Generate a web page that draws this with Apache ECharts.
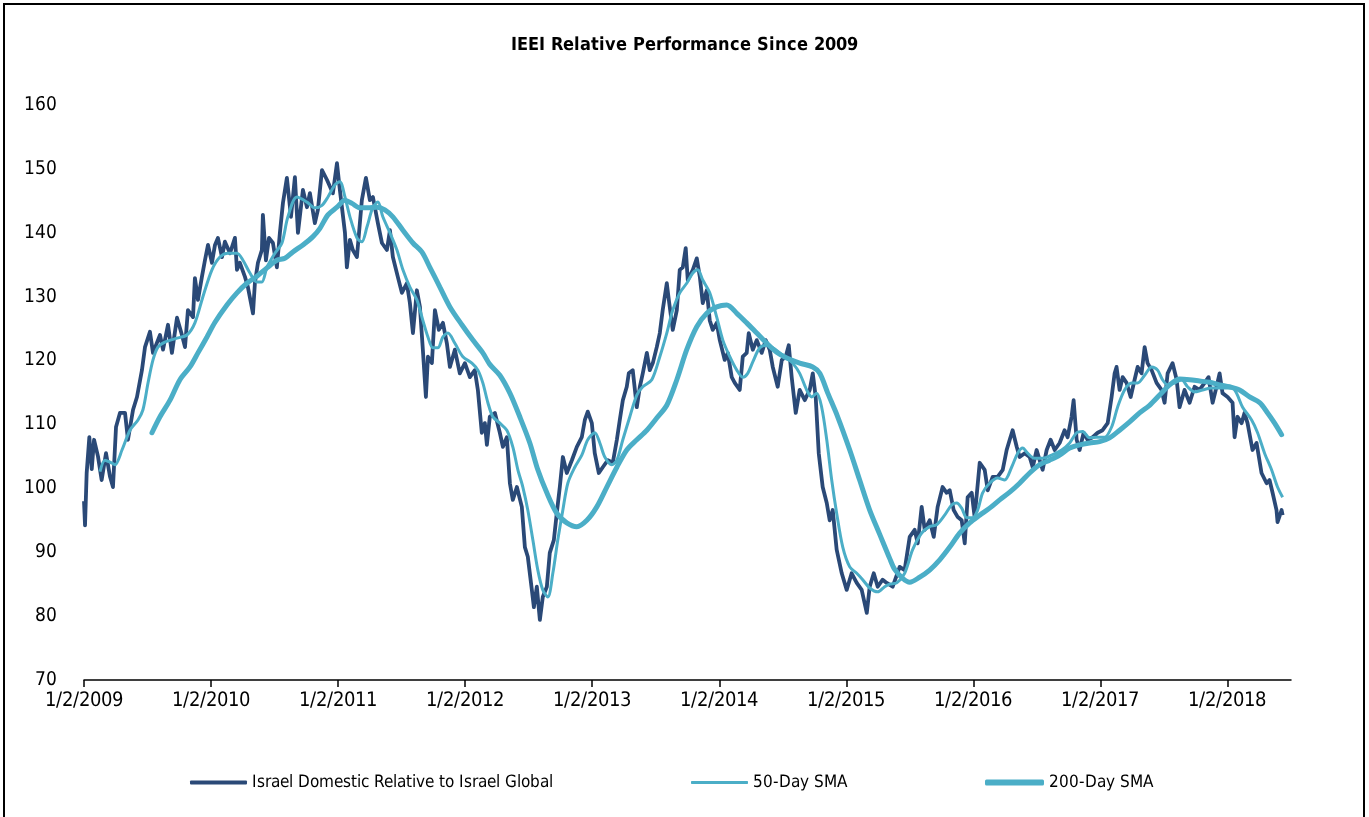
<!DOCTYPE html>
<html>
<head>
<meta charset="utf-8">
<script src="https://cdn.jsdelivr.net/npm/echarts@6/dist/echarts.min.js"></script>
<style>
@font-face{font-family:'CondA';src:local('Liberation Sans Narrow'),local('LiberationSansNarrow'),local('LiberationSansNarrow-Regular'),local('DejaVu Sans Condensed'),local('DejaVuSansCondensed');font-weight:normal;}
@font-face{font-family:'CondA';src:local('Liberation Sans Narrow Bold'),local('LiberationSansNarrow-Bold'),local('DejaVu Sans Condensed Bold'),local('DejaVuSansCondensed-Bold');font-weight:bold;}
html,body{margin:0;padding:0;background:#fff;}
#frame{position:absolute;left:3px;top:3px;width:1362px;height:830px;border:2px solid #000;box-sizing:border-box;}
#chart{position:absolute;left:0;top:0;width:1369px;height:817px;}
#probe{position:absolute;left:-9999px;font-family:CondA;}
</style>
</head>
<body>
<div id="frame"></div>
<div id="chart"></div>
<span id="probe">1/2/2009 <b>x</b></span>
<script>
// x values: years elapsed since 1/2/2009
const yearLabels = ['1/2/2009','1/2/2010','1/2/2011','1/2/2012','1/2/2013','1/2/2014','1/2/2015','1/2/2016','1/2/2017','1/2/2018'];
const yTicks = [70,80,90,100,110,120,130,140,150,160];

const mainT = [0,0.008,0.021,0.042,0.061,0.079,0.110,0.139,0.173,0.205,0.228,0.252,0.283,0.323,0.346,0.386,0.417,0.456,0.480,0.519,0.543,0.598,0.622,0.661,0.692,0.732,0.771,0.795,0.818,0.858,0.873,0.897,0.928,0.952,0.976,1.007,1.031,1.054,1.086,1.109,1.149,1.188,1.204,1.227,1.267,1.290,1.330,1.345,1.369,1.400,1.408,1.432,1.456,1.487,1.518,1.542,1.566,1.597,1.629,1.660,1.684,1.723,1.755,1.778,1.817,1.841,1.873,1.912,1.959,1.991,2.014,2.054,2.069,2.093,2.116,2.148,2.187,2.219,2.250,2.274,2.313,2.345,2.384,2.408,2.431,2.470,2.502,2.541,2.565,2.589,2.620,2.644,2.667,2.691,2.707,2.738,2.762,2.793,2.825,2.856,2.880,2.919,2.958,2.998,3.037,3.076,3.100,3.131,3.155,3.171,3.194,3.234,3.273,3.297,3.328,3.352,3.375,3.407,3.446,3.470,3.493,3.525,3.541,3.564,3.588,3.611,3.643,3.666,3.698,3.721,3.745,3.769,3.800,3.840,3.879,3.918,3.942,3.965,3.997,4.020,4.052,4.083,4.123,4.162,4.194,4.217,4.241,4.272,4.288,4.319,4.351,4.375,4.398,4.430,4.453,4.477,4.508,4.532,4.555,4.587,4.603,4.634,4.666,4.689,4.713,4.736,4.752,4.792,4.823,4.847,4.870,4.902,4.925,4.949,4.980,5.004,5.043,5.067,5.098,5.122,5.161,5.185,5.216,5.232,5.264,5.295,5.334,5.366,5.397,5.421,5.460,5.492,5.523,5.547,5.570,5.602,5.633,5.673,5.712,5.736,5.759,5.783,5.814,5.846,5.869,5.893,5.924,5.964,6.003,6.042,6.082,6.121,6.161,6.184,6.216,6.247,6.286,6.318,6.365,6.420,6.459,6.499,6.538,6.562,6.593,6.617,6.656,6.688,6.719,6.758,6.790,6.814,6.845,6.877,6.908,6.932,6.955,6.987,7.010,7.050,7.089,7.113,7.152,7.191,7.231,7.262,7.286,7.309,7.341,7.364,7.404,7.443,7.467,7.498,7.522,7.545,7.577,7.608,7.640,7.679,7.718,7.742,7.773,7.789,7.813,7.836,7.868,7.899,7.939,7.978,8.017,8.057,8.088,8.112,8.127,8.151,8.175,8.206,8.238,8.269,8.293,8.324,8.348,8.371,8.403,8.442,8.481,8.505,8.529,8.568,8.600,8.623,8.662,8.702,8.741,8.780,8.820,8.851,8.883,8.914,8.938,8.961,9.001,9.040,9.056,9.079,9.111,9.134,9.158,9.197,9.229,9.268,9.308,9.331,9.355,9.386,9.394,9.426,9.434];
const mainV = [98.0,94.2,102.4,108.0,103.0,107.6,105.0,101.3,105.5,101.8,100.2,109.6,111.8,111.8,107.6,112.3,114.3,118.5,122.1,124.5,121.2,124.0,121.7,125.6,121.2,126.7,124.0,122.1,127.9,126.8,132.9,129.5,133.1,135.7,138.1,135.3,138.1,139.2,136.2,138.6,136.8,139.2,134.2,135.3,133.1,131.5,127.4,132.1,135.3,137.3,142.8,135.7,139.2,138.4,134.6,140.0,144.7,148.6,142.5,148.7,140.0,146.7,144.0,146.2,141.5,143.6,149.8,148.3,146.2,150.9,146.7,140.0,134.6,138.9,137.3,136.2,145.1,148.6,145.1,145.6,141.5,138.4,137.3,140.4,136.2,133.1,130.6,132.1,129.0,124.3,131.0,128.4,121.7,114.3,120.6,119.6,127.9,124.8,125.9,122.7,119.0,121.7,118.0,119.6,117.4,118.5,115.4,108.7,110.2,106.8,111.2,111.8,108.7,106.5,108.0,100.8,98.2,100.2,97.1,90.8,89.3,84.1,81.4,84.6,79.4,83.0,84.6,89.9,91.9,96.1,100.2,104.9,102.4,104.4,106.5,108.0,110.7,112.0,110.2,105.5,102.4,103.3,104.4,104.0,107.6,110.7,113.8,115.9,118.0,118.5,112.7,115.9,118.0,121.2,118.5,119.6,122.1,124.3,127.9,132.1,129.5,124.8,127.9,134.2,134.6,137.6,132.6,134.2,136.0,133.1,129.0,131.0,126.3,124.8,125.9,123.2,120.1,121.2,117.4,116.5,115.4,120.6,121.2,124.3,121.7,123.2,121.2,123.2,121.7,119.0,115.9,120.1,120.6,122.4,117.4,111.8,115.4,113.8,115.4,118.0,114.3,105.5,100.2,97.7,95.0,96.6,90.4,86.7,84.1,86.7,85.2,84.1,80.5,84.6,86.7,84.6,85.7,85.2,84.6,87.7,87.2,92.4,93.5,91.4,97.1,93.5,95.0,92.4,97.1,100.2,99.3,99.7,96.6,95.5,95.0,91.4,98.6,99.3,95.5,104.0,102.9,99.7,101.8,101.8,102.9,106.0,107.6,109.1,106.5,104.9,105.5,104.9,103.3,106.0,104.4,102.9,106.0,107.6,106.0,107.1,109.1,108.0,111.2,113.8,107.6,106.0,108.7,107.6,108.0,108.7,109.1,110.2,114.3,118.0,119.0,115.4,117.4,116.5,114.3,117.0,119.0,118.0,122.1,119.6,118.5,116.5,115.4,113.4,118.0,119.6,117.0,112.7,115.4,113.4,115.9,115.4,116.5,117.4,113.4,115.9,118.0,114.9,114.3,113.4,108.0,111.2,110.2,111.8,110.2,106.0,107.1,102.4,100.8,101.3,99.3,96.6,94.7,96.6,95.8];

const sma50T = [0.126,0.165,0.205,0.244,0.299,0.362,0.425,0.464,0.504,0.543,0.582,0.637,0.732,0.810,0.873,0.936,1.007,1.070,1.133,1.204,1.251,1.306,1.361,1.400,1.440,1.503,1.558,1.605,1.676,1.755,1.817,1.873,1.920,1.975,2.014,2.054,2.093,2.148,2.187,2.227,2.274,2.313,2.352,2.408,2.463,2.510,2.565,2.620,2.667,2.707,2.746,2.785,2.825,2.864,2.919,2.982,3.053,3.100,3.139,3.179,3.218,3.273,3.328,3.375,3.415,3.454,3.493,3.533,3.572,3.611,3.651,3.690,3.729,3.769,3.808,3.863,3.918,3.965,4.020,4.060,4.099,4.154,4.194,4.241,4.296,4.351,4.398,4.469,4.532,4.587,4.634,4.689,4.744,4.792,4.831,4.870,4.925,4.980,5.028,5.083,5.138,5.185,5.224,5.264,5.319,5.374,5.421,5.476,5.531,5.578,5.633,5.688,5.728,5.767,5.806,5.846,5.885,5.924,5.972,6.027,6.082,6.129,6.184,6.247,6.302,6.342,6.397,6.459,6.522,6.593,6.656,6.711,6.774,6.829,6.869,6.908,6.948,6.994,7.034,7.073,7.128,7.191,7.246,7.301,7.349,7.388,7.427,7.482,7.545,7.616,7.695,7.758,7.813,7.860,7.915,7.970,8.033,8.088,8.135,8.190,8.246,8.293,8.348,8.403,8.450,8.489,8.529,8.584,8.639,8.686,8.741,8.804,8.875,8.938,9.001,9.056,9.119,9.190,9.237,9.292,9.347,9.394,9.434];
const sma50V = [102.6,104.4,104.1,103.7,106.0,109.1,110.7,112.3,116.5,120.1,122.1,122.9,123.5,124.0,125.9,130.0,134.2,136.2,136.8,136.8,135.7,133.7,132.3,132.3,134.6,136.8,138.4,142.5,145.6,144.8,143.9,144.3,145.6,147.5,148.0,145.6,142.5,139.2,138.6,140.9,144.0,144.8,142.5,140.0,137.3,134.2,131.5,129.5,126.3,123.7,122.0,122.0,123.7,124.3,122.7,120.6,119.6,118.5,116.5,113.4,111.2,110.2,109.1,106.5,102.9,100.2,96.6,91.9,87.2,84.1,83.0,86.7,91.9,96.6,100.8,103.3,105.2,107.6,108.7,107.1,104.9,103.7,104.4,107.6,111.2,114.6,115.9,117.0,120.6,124.3,127.9,130.6,132.1,133.7,134.2,132.6,130.6,126.8,123.2,120.6,118.5,117.4,118.0,119.8,122.0,122.4,122.0,121.2,120.4,119.6,118.0,115.4,114.3,114.9,112.7,107.6,101.3,96.1,90.8,87.7,86.7,85.7,84.4,83.8,84.6,85.0,85.2,86.7,90.4,93.0,94.0,94.3,95.8,97.4,97.7,96.9,95.4,95.4,96.6,99.3,100.8,101.6,101.3,103.3,105.5,106.3,105.5,104.7,104.7,105.2,106.0,107.1,108.7,108.9,107.9,108.0,108.0,109.6,112.7,115.4,116.5,116.5,117.7,119.0,118.5,117.0,116.2,116.5,117.0,115.9,115.1,115.4,115.7,115.7,115.7,115.4,112.7,110.7,108.7,105.5,102.9,100.2,98.6];

const sma200T = [0.535,0.598,0.677,0.755,0.834,0.897,0.968,1.031,1.125,1.204,1.282,1.361,1.440,1.518,1.581,1.644,1.723,1.802,1.857,1.920,1.991,2.054,2.109,2.172,2.234,2.305,2.368,2.431,2.510,2.589,2.659,2.722,2.801,2.880,2.974,3.061,3.139,3.194,3.273,3.352,3.430,3.509,3.572,3.643,3.721,3.800,3.879,3.958,4.036,4.115,4.194,4.272,4.351,4.430,4.508,4.587,4.666,4.744,4.823,4.902,4.980,5.059,5.138,5.216,5.295,5.374,5.452,5.531,5.633,5.736,5.791,5.854,5.932,6.027,6.105,6.184,6.263,6.342,6.381,6.444,6.499,6.578,6.656,6.735,6.814,6.892,6.971,7.050,7.128,7.207,7.286,7.364,7.443,7.522,7.600,7.679,7.758,7.836,7.915,7.994,8.072,8.151,8.230,8.308,8.387,8.466,8.545,8.623,8.702,8.780,8.859,8.938,9.017,9.095,9.174,9.253,9.316,9.371,9.426];
const sma200V = [108.7,111.2,113.8,117.0,119.0,121.2,123.7,126.0,128.7,130.6,132.1,133.2,134.5,135.7,136.0,137.0,138.1,139.4,140.7,142.8,144.0,145.1,144.6,143.9,143.9,144.0,143.6,142.5,140.4,138.4,137.0,134.6,131.5,128.4,125.6,123.2,121.2,119.4,117.7,114.9,111.2,107.1,102.9,99.3,96.1,94.6,94.0,95.0,97.1,100.2,103.3,106.0,107.6,109.1,111.0,113.0,117.0,121.7,125.3,127.4,128.4,128.7,127.4,125.9,124.3,122.7,121.3,120.4,119.6,119.0,118.0,114.9,111.2,106.0,101.3,96.6,92.8,89.0,87.3,85.9,85.3,86.1,87.2,88.8,90.8,93.0,94.6,95.8,96.9,98.2,99.4,100.8,102.4,103.7,104.4,105.2,106.3,106.8,107.1,107.3,107.9,109.1,110.4,111.8,113.0,114.6,116.2,117.1,117.0,116.8,116.6,116.2,115.9,115.4,114.3,113.4,111.8,110.2,108.4];

const seriesNames = ['Israel Domestic Relative to Israel Global','50-Day SMA','200-Day SMA'];
const DARK = '#2A4977', LIGHT = '#4BAEC7';
const FONT = 'CondA,"Liberation Sans Narrow","DejaVu Sans Condensed",sans-serif';

function zip(t, v) { return t.map((x, i) => [x, v[i]]); }

function draw() {
  const chart = echarts.init(document.getElementById('chart'), null, {renderer: 'canvas'});
  const legendText = {fontFamily: FONT, fontSize: 17, color: '#000'};
  chart.setOption({
    backgroundColor: 'transparent',
    animation: false,
    title: {
      text: 'IEEI Relative Performance Since 2009',
      left: 'center', top: 31,
      textStyle: {fontFamily: FONT, fontWeight: 'bold', fontSize: 18, color: '#000'}
    },
    legend: [
      {data: [{name: seriesNames[0], icon: 'roundRect'}], left: 185, top: 769, itemWidth: 57, itemHeight: 4, textStyle: legendText},
      {data: [{name: seriesNames[1], icon: 'roundRect'}], left: 686, top: 769, itemWidth: 57, itemHeight: 3, textStyle: legendText},
      {data: [{name: seriesNames[2], icon: 'roundRect'}], left: 980, top: 769, itemWidth: 59, itemHeight: 6, textStyle: legendText}
    ],
    grid: {left: 84, right: 78, top: 105, bottom: 137, containLabel: false},
    xAxis: {
      type: 'value', min: 0, max: 9.5, interval: 1,
      splitLine: {show: false},
      axisLine: {show: true, lineStyle: {color: '#000', width: 1.5}},
      axisTick: {show: true, length: 7, lineStyle: {color: '#000', width: 1.5}, customValues: [0,1,2,3,4,5,6,7,8,9]},
      axisLabel: {
        customValues: [0,1,2,3,4,5,6,7,8,9],
        formatter: v => yearLabels[Math.round(v)] || '',
        fontFamily: FONT, fontSize: 20, color: '#000', margin: 11
      }
    },
    yAxis: {
      type: 'value', min: 70, max: 160, interval: 10,
      splitLine: {show: false},
      axisLine: {show: false},
      axisTick: {show: false},
      axisLabel: {
        formatter: v => yTicks.includes(v) ? String(v) : '',
        fontFamily: FONT, fontSize: 19, color: '#000', margin: 27
      }
    },
    series: [
      {name: seriesNames[0], type: 'line', data: zip(mainT, mainV), symbol: 'none', z: 2,
       lineStyle: {color: DARK, width: 3.8, join: 'round'}, itemStyle: {color: DARK}},
      {name: seriesNames[1], type: 'line', data: zip(sma50T, sma50V), symbol: 'none', smooth: 0.3, z: 3,
       lineStyle: {color: LIGHT, width: 3}, itemStyle: {color: LIGHT}},
      {name: seriesNames[2], type: 'line', data: zip(sma200T, sma200V), symbol: 'none', smooth: 0.3, z: 4,
       lineStyle: {color: LIGHT, width: 5, cap: 'round'}, itemStyle: {color: LIGHT}}
    ]
  });
}

if (document.fonts && document.fonts.load) {
  Promise.all([document.fonts.load('18px CondA'), document.fonts.load('bold 20px CondA')])
    .then(draw, draw);
} else {
  draw();
}
</script>
</body>
</html>
